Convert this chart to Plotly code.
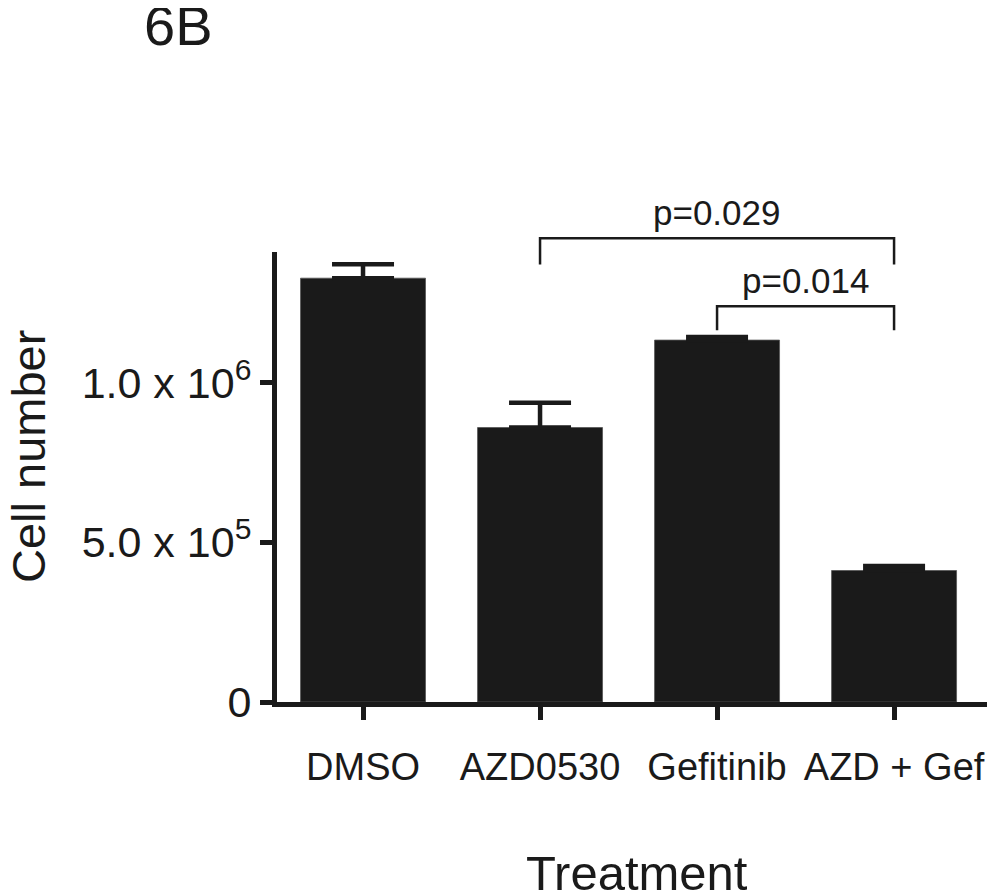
import plotly.graph_objects as go

# ---- data ----
categories = ["DMSO", "AZD0530", "Gefitinib", "AZD + Gef"]
cell_number = [1328000, 860000, 1134000, 412000]
sem_upper = [44000, 78000, 9500, 14000]
y_tick_vals = [0, 500000, 1000000]
y_tick_text = ["0", "5.0 x 10<sup>5</sup>", "1.0 x 10<sup>6</sup>"]
comparisons = [("AZD0530", "AZD + Gef", "p=0.029"), ("Gefitinib", "AZD + Gef", "p=0.014")]
bracket_tops = [1453000, 1240000]
bracket_legs = [1371000, 1165000]

# ---- layout geometry (page has an 8px body margin) ----
OFF = 8
W, H = 1005 - OFF, 896 - OFF
ML, MR, MT, MB = 269, 18, 244, 194
XR = [-0.486, 3.525]
YR = [0, 1410000]
pw, ph = W - ML - MR, H - MT - MB

INK = "#1a1a1a"
FONT = "Liberation Sans, Arial, Helvetica, sans-serif"


def xp(v):
    return (v - XR[0]) / (XR[1] - XR[0])


def yp(v):
    return (v - YR[0]) / (YR[1] - YR[0])


def page_x(p):
    return (p - OFF - ML) / pw


def page_y(p):
    return (H - MB - (p - OFF)) / ph


xi = list(range(len(categories)))

fig = go.Figure()
fig.add_trace(go.Bar(
    x=xi, y=cell_number, width=0.706,
    marker=dict(color=INK, line=dict(color="#555555", width=0.8)),
    error_y=dict(type="data", symmetric=False, array=sem_upper,
                 arrayminus=[0] * len(sem_upper),
                 color=INK, thickness=4.5, width=31),
    showlegend=False, hoverinfo="skip",
))

shapes = []
annotations = []
for (a, b, label), top, leg in zip(comparisons, bracket_tops, bracket_legs):
    xa, xb = xp(categories.index(a)), xp(categories.index(b))
    yt, yl = yp(top), yp(leg)
    shapes.append(dict(type="path", xref="paper", yref="paper",
                       path=f"M {xa} {yl} L {xa} {yt} L {xb} {yt} L {xb} {yl}",
                       line=dict(color=INK, width=2.5)))
    annotations.append(dict(x=(xa + xb) / 2, y=yt, xref="paper", yref="paper",
                            text=label, showarrow=False, xanchor="center",
                            yanchor="middle", yshift=26,
                            font=dict(family=FONT, size=35, color=INK)))

annotations.append(dict(x=page_x(178), y=page_y(25), xref="paper", yref="paper",
                        text="6B", showarrow=False, xanchor="center", yanchor="middle",
                        font=dict(family=FONT, size=56, color=INK)))
annotations.append(dict(x=page_x(637), y=page_y(873), xref="paper", yref="paper",
                        text="Treatment", showarrow=False, xanchor="center", yanchor="middle",
                        font=dict(family=FONT, size=49, color=INK)))
annotations.append(dict(x=page_x(28), y=page_y(457), xref="paper", yref="paper",
                        text="Cell number", showarrow=False, xanchor="center", yanchor="middle",
                        textangle=-90,
                        font=dict(family=FONT, size=47, color=INK)))

fig.update_layout(
    width=W, height=H,
    margin=dict(l=ML, r=MR, t=MT, b=MB, pad=0),
    paper_bgcolor="white", plot_bgcolor="white",
    shapes=shapes, annotations=annotations,
    xaxis=dict(range=XR, tickmode="array", tickvals=xi, ticktext=categories,
               tickangle=0, ticklabelstandoff=14,
               showgrid=False, zeroline=False, showline=True, linecolor=INK, linewidth=5,
               ticks="outside", ticklen=13, tickwidth=5, tickcolor=INK,
               tickfont=dict(family=FONT, size=38, color=INK)),
    yaxis=dict(range=YR, tickmode="array", tickvals=y_tick_vals, ticktext=y_tick_text,
               showgrid=False, zeroline=False, showline=True, linecolor=INK, linewidth=5,
               ticks="outside", ticklen=12, tickwidth=5, tickcolor=INK,
               tickfont=dict(family=FONT, size=43, color=INK)),
)

fig.write_html("out.html")
